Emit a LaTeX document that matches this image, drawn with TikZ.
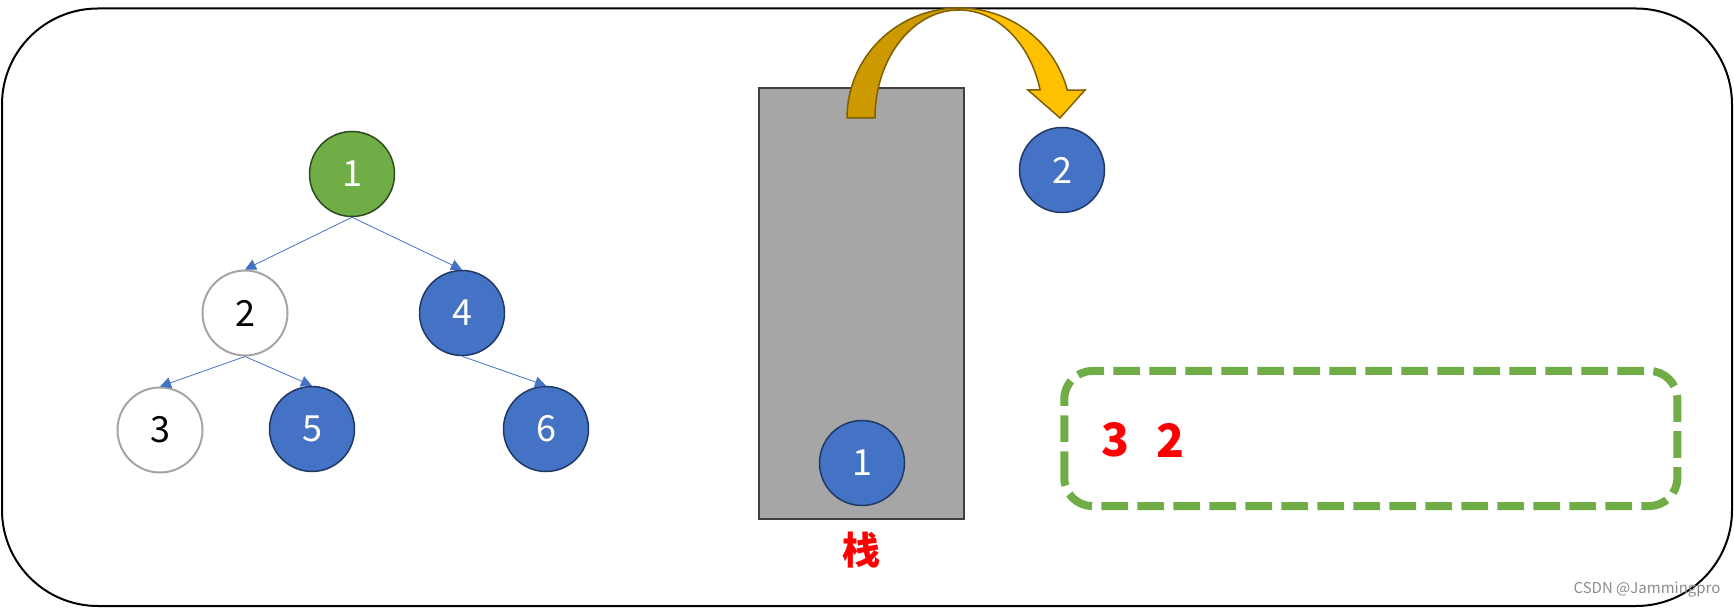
\documentclass[tikz,border=0pt]{standalone}
\usepackage{fontspec}
\setmainfont{Noto Sans CJK SC}
\usepackage{tikz}
\usetikzlibrary{arrows.meta}
\usetikzlibrary{positioning}

\definecolor{nodeblue}{HTML}{4472C4}
\definecolor{nodeblueline}{HTML}{203864}
\definecolor{nodegreen}{HTML}{70AD47}
\definecolor{nodegreenline}{HTML}{2E4A1C}
\definecolor{nodegray}{HTML}{A5A5A5}
\definecolor{stackgray}{HTML}{A6A6A6}
\definecolor{stackline}{HTML}{404040}
\definecolor{arrowgold}{HTML}{FFC000}
\definecolor{arrowdark}{HTML}{CC9900}
\definecolor{arrowline}{HTML}{7F6000}

\begin{document}
\begin{tikzpicture}[x=1pt,y=1pt,
    vtx/.style={circle,minimum size=85pt,inner sep=0pt,line width=1.5pt,
        font=\fontsize{36}{36}\selectfont},
    bluevtx/.style={vtx,fill=nodeblue,draw=nodeblueline,text=white},
    greenvtx/.style={vtx,fill=nodegreen,draw=nodegreenline,text=white},
    whitevtx/.style={vtx,fill=white,draw=nodegray,line width=2pt,text=black},
    treeedge/.style={draw=nodeblue,line width=0.8pt,-{Triangle[length=11pt,width=11pt]}},
    redtxt/.style={text=red,font=\fontsize{46}{46}\selectfont\bfseries}]
    \useasboundingbox (0,0) rectangle (1734,608);
    \draw[line width=2pt,rounded corners=96pt] (2,2) rectangle (1732,599.5);

    % tree
    \node[greenvtx] (n1) at (352,434) {1};
    \node[whitevtx] (n2) at (245,295) {2};
    \node[bluevtx]  (n4) at (462,295) {4};
    \node[whitevtx] (n3) at (160,178) {3};
    \node[bluevtx]  (n5) at (312,179) {5};
    \node[bluevtx]  (n6) at (546,179) {6};
    \draw[treeedge] (n1.south) -- (n2.north);
    \draw[treeedge] (n1.south) -- (n4.north);
    \draw[treeedge] (n2.south) -- (n3.north);
    \draw[treeedge] (n2.south) -- (n5.north);
    \draw[treeedge] (n4.south) -- (n6.north);

    % stack
    \fill[stackgray] (759,89.5) rectangle (964,519.5);
    \draw[stackline,line width=2pt] (759,89.5) rectangle (964,519.5);
    \node[bluevtx] (s1) at (862,145) {1};
    \node[text=red,font=\fontsize{38}{38}\selectfont\bfseries] (stk) at (861,58) {栈};

    % pop arrow
    \filldraw[fill=arrowdark,draw=arrowline,line width=1.5pt]
        (847,490) arc[start angle=180,end angle=90,x radius=112,y radius=110]
        -- (959,598) arc[start angle=90,end angle=180,x radius=84,y radius=108] -- cycle;
    \filldraw[fill=arrowgold,draw=arrowline,line width=1.5pt]
        (959,600) arc[start angle=90,end angle=14.7,x radius=112,y radius=110]
        -- (1085,518) -- (1060,490) -- (1028,518) -- (1040.1,518)
        arc[start angle=15,end angle=90,x radius=84,y radius=108] -- cycle;
    \node[bluevtx] (p2) at (1062,438) {2};

    % output
    \draw[nodegreen,line width=8pt,dash pattern=on 26.7pt off 9.3pt,rounded corners=28pt]
        (1064.3,102) rectangle (1677.3,237);
    \node[redtxt] (r3) at (1115,168) {3};
    \node[redtxt] (r2) at (1170,168) {2};

    \node[text=black!45,font=\fontsize{15}{15}\selectfont] (mark) at (1647,18) {CSDN @Jammingpro};
\end{tikzpicture}
\end{document}
